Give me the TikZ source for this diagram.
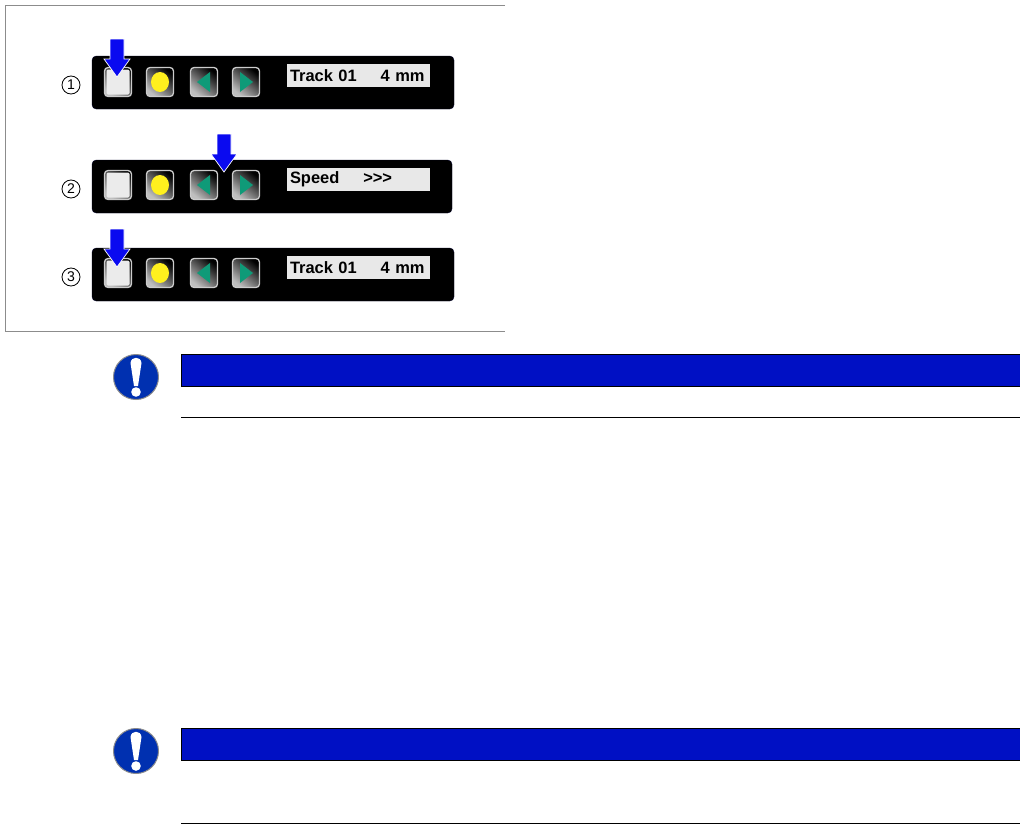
\documentclass[tikz,border=0pt]{standalone}
\usepackage{fontspec}
\setmainfont{Liberation Sans}
\definecolor{barblue}{HTML}{0010C4}
\definecolor{iconblue}{HTML}{0030B0}
\definecolor{pushblue}{HTML}{0A0AF0}
\definecolor{keygreen}{HTML}{0F9A78}
\definecolor{keyyellow}{HTML}{FFF01E}
\tikzset{
  panelbox/.style={fill=black,draw=black!85!blue,rounded corners=3pt,line width=0.3pt,inner sep=0pt},
  keybox/.style={draw=black!20,line width=0.9pt,rounded corners=2.5pt,inner sep=0pt,minimum width=27*0.025cm,minimum height=29*0.025cm,left color=black,middle color=black!80,right color=black!25,shading angle=-40},
  whitekey/.style={fill=black!8,rounded corners=1pt,inner sep=0pt,minimum width=23*0.025cm,minimum height=25*0.025cm},
  screenbox/.style={fill=black!9,inner sep=0pt,minimum width=143*0.025cm,minimum height=23*0.025cm,text=black,font=\bfseries\fontsize{11.7pt}{13pt}\selectfont,text width=137*0.025cm,align=left},
  numcircle/.style={circle,draw,line width=0.6pt,inner sep=0pt,minimum size=18*0.025cm,font=\fontsize{10pt}{11pt}\selectfont},
  pushpath/.style={fill=pushblue,draw=white,line width=0.5pt},
  barbox/.style={fill=barblue,draw=black,line width=0.6pt},
  rulepath/.style={black,line width=0.7pt},
  framepath/.style={black!45,line width=0.5pt}
}
\begin{document}
\begin{tikzpicture}[x=0.025cm,y=-0.025cm]
  \useasboundingbox (0,0) rectangle (1020,824);
  % frame of the figure
  \draw[framepath] (505,5) -- (5,5) -- (5,331) -- (505,331);
  % the three panels
  \foreach \p/\ya/\w/\cy/\txt/\gap in {1/56/454/82/Track 01/4 mm,2/160/452/185/Speed/{>{}>{}>},3/248/454/273/Track 01/4 mm} {
    \fill[panelbox] (92,\ya) rectangle (\w,\ya+53);
    \node[numcircle] (num\p) at (71,\ya+29) {\p};
    \node[keybox] (white\p) at (118,\cy) {};
    \node[whitekey] (whitetop\p) at (118,\cy) {};
    \node[keybox] (stop\p) at (160,\cy) {};
    \fill[keyyellow] (stop\p.center) ellipse (9 and 10);
    \node[keybox] (back\p) at (204,\cy) {};
    \fill[keygreen] (197,\cy) -- (210,\cy-10) -- (210,\cy+10) -- cycle;
    \node[keybox] (next\p) at (246,\cy) {};
    \fill[keygreen] (253,\cy) -- (240,\cy-10) -- (240,\cy+10) -- cycle;
    \node[screenbox] (screen\p) at (358.5,\ya+19.5) {\txt\hspace{17pt}\gap};
  }
  % push arrows
  \foreach \x/\y in {117/39,224/134,117/229} {
    \draw[pushpath] (\x-7,\y) -- (\x+7,\y) -- (\x+7,\y+20) -- (\x+13,\y+20)
      -- (\x,\y+38) -- (\x-13,\y+20) -- (\x-7,\y+20) -- cycle;
  }
  % notes below
  \foreach \n/\ya/\yb in {1/354/417,2/728/823} {
    \fill[barbox] (181,\ya) rectangle (1020,\ya+32);
    \draw[rulepath] (181,\yb) -- (1020,\yb);
    \filldraw[fill=iconblue,draw=black!45,line width=0.7pt] (136,\ya+23) circle (22.5);
    \fill[white] (130.5,\ya+9) .. controls (131,\ya+2) and (141,\ya+2) .. (141.5,\ya+9)
      -- (138,\ya+32) -- (134,\ya+32) -- cycle;
    \fill[white] (136,\ya+38) circle (4.8);
  }
\end{tikzpicture}
\end{document}
